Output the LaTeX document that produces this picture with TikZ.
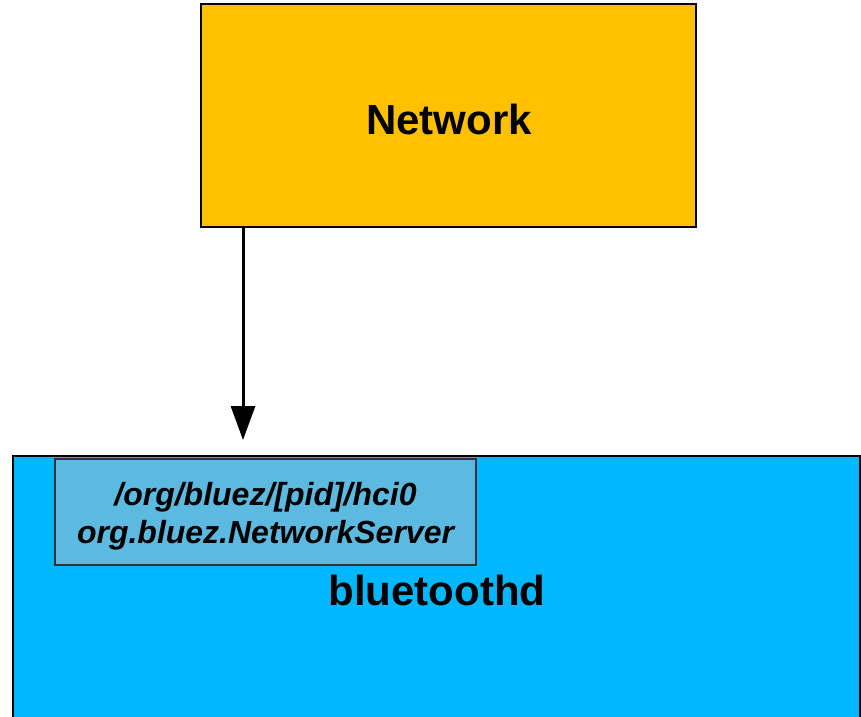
\documentclass[tikz,border=0pt]{standalone}
\usepackage{fontspec}
\setmainfont{Liberation Sans}
\usetikzlibrary{arrows.meta}
\definecolor{netfill}{HTML}{FFC000}
\definecolor{btfill}{HTML}{00B8FF}
\definecolor{ifill}{HTML}{5CB9E0}
\tikzset{
  box/.style={draw=black, line width=1.8pt, inner sep=0pt, outer sep=0pt},
  bigtext/.style={inner sep=0pt, align=center, font=\fontsize{42}{48}\selectfont\bfseries},
  ifbox/.style={draw=black!80, line width=1.3pt, fill=ifill, inner sep=0pt, outer sep=0pt},
  iftext/.style={inner sep=0pt, align=center, font=\fontsize{32}{37.5}\selectfont\bfseries\itshape},
  conn/.style={line width=3pt, -{Triangle[length=34pt,width=24pt]}}
}
\begin{document}
\begin{tikzpicture}[x=1pt,y=-1pt]
\useasboundingbox (0,0) rectangle (861,716);
\node[box, fill=netfill, minimum width=495pt, minimum height=223pt] (net) at (448.5,115.5) {};
\node[bigtext] (netl) at (449,119) {Network};
\node[box, fill=btfill, minimum width=847pt, minimum height=264pt] (bt) at (436.5,588) {};
\node[bigtext] (btl) at (437,590) {bluetoothd};
\node[ifbox, minimum width=421pt, minimum height=106pt] (if) at (265.5,512) {};
\node[iftext] (ifl) at (265.5,516) {/org/bluez/[pid]/hci0\\org.bluez.NetworkServer};
\coordinate (tip) at (243,440);
\draw[conn] (net.south -| tip) -- (tip);
\end{tikzpicture}
\end{document}
